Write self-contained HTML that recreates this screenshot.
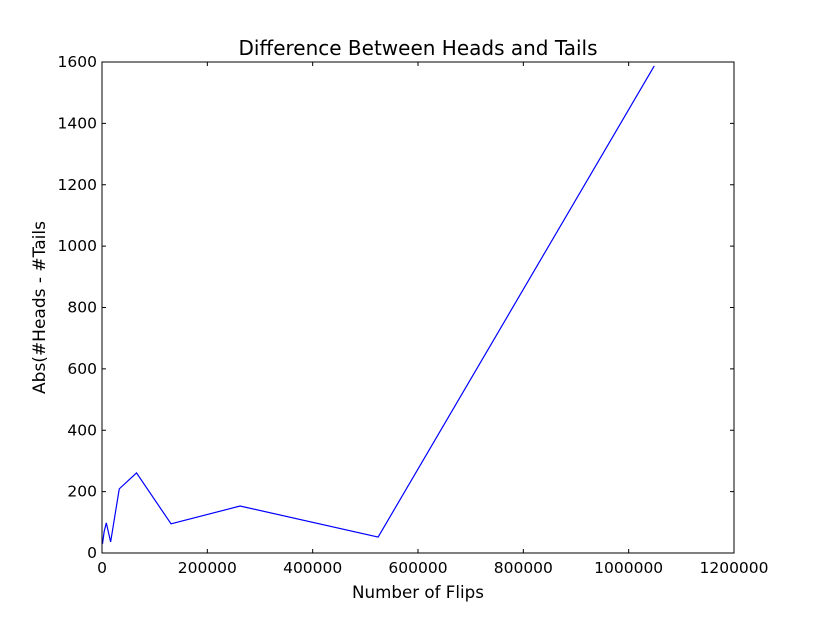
<!DOCTYPE html>
<html><head><meta charset="utf-8"><style>
body{margin:0;background:#fff;}
svg text{font-family:"DejaVu Sans","Liberation Sans",sans-serif;fill:#000;}
</style></head><body>
<svg width="815" height="615" xmlns="http://www.w3.org/2000/svg">
<rect width="815" height="615" fill="#fff"/>
<g id="g"></g>
</svg>
<script>
const flips=[1024,2048,4096,8192,16384,32768,65536,131072,262144,524288,1048576];
const diffs=[30,44,70,98,36,209,261,95,153,52,1587];
const xTicks=[0,200000,400000,600000,800000,1000000,1200000];
const yTicks=[0,200,400,600,800,1000,1200,1400,1600];
const L=102,R=734,T=62,B=553;
const sx=v=>L+(v/1200000)*(R-L);
const sy=v=>B-(v/1600)*(B-T);
const g=document.getElementById('g');
const NS='http://www.w3.org/2000/svg';
function mk(t,a){const e=document.createElementNS(NS,t);for(const k in a)e.setAttribute(k,a[k]);g.appendChild(e);return e;}
xTicks.forEach(v=>{const x=sx(v);
const t1=mk('line',{x1:x,x2:x,y1:B,y2:B-4,stroke:'#000'});


mk('line',{x1:x,x2:x,y1:T,y2:T+4,stroke:'#000'});
const tx=mk('text',{x:x,y:B+20,'text-anchor':'middle','font-size':15.5});tx.textContent=v;


});
yTicks.forEach(v=>{const y=sy(v);
const t1=mk('line',{x1:L,x2:L+4,y1:y,y2:y,stroke:'#000'});


mk('line',{x1:R,x2:R-4,y1:y,y2:y,stroke:'#000'});
const tx=mk('text',{x:L-5,y:y+5,'text-anchor':'end','font-size':15.5});tx.textContent=v;


});
const line=mk('polyline',{points:flips.map((f,i)=>sx(f)+','+sy(diffs[i])).join(' '),fill:'none',stroke:'#0000ff','stroke-width':1.2});


const fr=mk('rect',{x:L,y:T,width:R-L,height:B-T,fill:'none',stroke:'#000'});


const ti=mk('text',{x:(L+R)/2,y:55,'text-anchor':'middle','font-size':20});ti.textContent='Difference Between Heads and Tails';


const xl=mk('text',{x:(L+R)/2,y:598,'text-anchor':'middle','font-size':16.7});xl.textContent='Number of Flips';


const yl=mk('text',{x:0,y:0,'text-anchor':'middle','font-size':17,transform:'translate(45,'+((T+B)/2)+') rotate(-90)'});yl.textContent='Abs(#Heads - #Tails';


</script>
</body></html>
